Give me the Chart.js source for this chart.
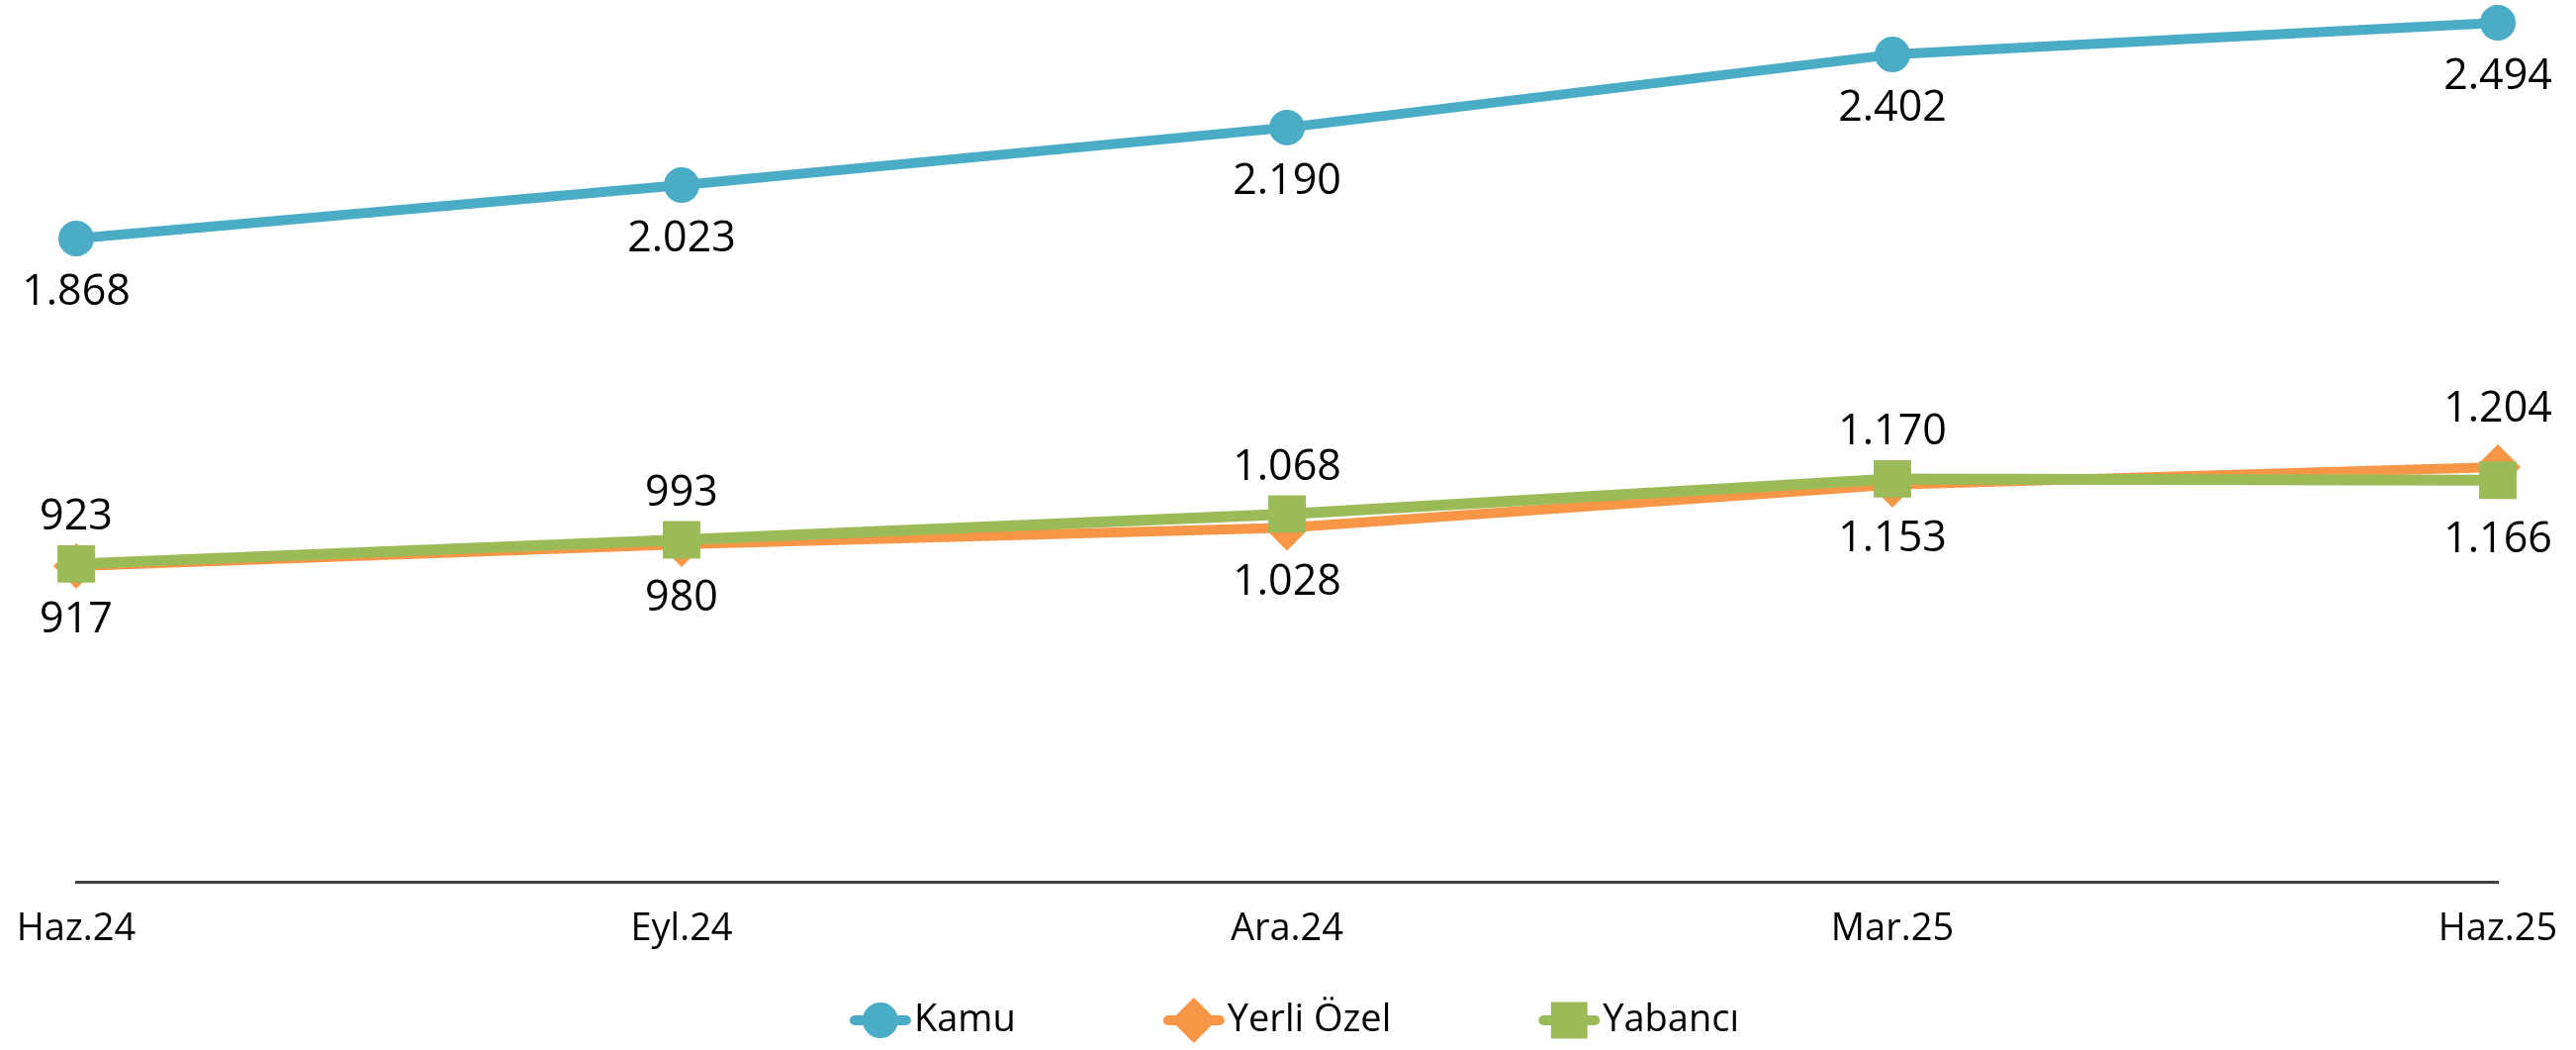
<!DOCTYPE html>
<html>
<head>
<meta charset="utf-8">
<script src="https://cdn.jsdelivr.net/npm/chart.js@4/dist/chart.umd.min.js"></script>
<style>
  html, body { margin: 0; padding: 0; background: #fff; }
  #wrap { width: 2604px; height: 1061px; position: relative; }
</style>
</head>
<body>
<div id="wrap"><canvas id="trend"></canvas></div>
<script>
// periods and series
const periods = ["Haz.24", "Eyl.24", "Ara.24", "Mar.25", "Haz.25"];
const kamu = [1868, 2023, 2190, 2402, 2494];
const yerliOzel = [917, 980, 1028, 1153, 1204];
const yabanci = [923, 993, 1068, 1170, 1166];

const FONT = "'Open Sans', 'Noto Sans', sans-serif";

function fmt(v) {
  return String(v).replace(/\B(?=(\d{3})+(?!\d))/g, ".");
}

// value labels next to each point
const valueLabels = {
  id: "valueLabels",
  afterDatasetsDraw(chart) {
    const ctx = chart.ctx;
    ctx.save();
    ctx.font = "43px " + FONT;
    ctx.fillStyle = "#000";
    ctx.textAlign = "center";
    ctx.textBaseline = "middle";
    chart.data.datasets.forEach((ds, i) => {
      const meta = chart.getDatasetMeta(i);
      meta.data.forEach((pt, j) => {
        const txt = fmt(ds.data[j]);
        const w = ctx.measureText(txt).width;
        const above = ds.labelPos[j] === "above";
        const y = above ? pt.y - ds.labelAbove : pt.y + ds.labelBelow;
        let x = pt.x;
        x = Math.min(x, chart.width - w / 2 - 2);
        x = Math.max(x, w / 2 + 2);
        ctx.fillText(txt, x, y);
      });
    });
    ctx.restore();
  }
};

// legend: line with marker, then the name
const lineLegend = {
  id: "lineLegend",
  afterDraw(chart) {
    const ctx = chart.ctx;
    const a = chart.chartArea;
    const gap = 150, sym = 60;
    ctx.save();
    ctx.font = "38px " + FONT;
    const items = chart.data.datasets.map(ds => ({ ds, w: ctx.measureText(ds.label).width }));
    const total = items.reduce((s, it) => s + sym + 4 + it.w, 0) + gap * (items.length - 1);
    let x = (a.left + a.right) / 2 + 8 - total / 2;
    const y = chart.height - 30;
    items.forEach(({ ds, w }) => {
      ctx.strokeStyle = ds.borderColor;
      ctx.lineWidth = 10;
      ctx.lineCap = "round";
      ctx.beginPath();
      ctx.moveTo(x + 4, y);
      ctx.lineTo(x + sym - 4, y);
      ctx.stroke();
      ctx.fillStyle = ds.pointBackgroundColor;
      ctx.strokeStyle = ds.pointBorderColor;
      Chart.helpers.drawPoint(ctx, {
        pointStyle: ds.pointStyle, radius: ds.pointRadius, rotation: 0, borderWidth: 1
      }, x + sym / 2, y);
      ctx.fillStyle = "#000";
      ctx.textAlign = "left";
      ctx.textBaseline = "middle";
      ctx.fillText(ds.label, x + sym + 4, y);
      x += sym + 4 + w + gap;
    });
    ctx.restore();
  }
};

new Chart(document.getElementById("trend"), {
  type: "line",
  data: {
    labels: periods,
    datasets: [
      {
        label: "Kamu",
        data: kamu,
        borderColor: "#4BACC6",
        pointBackgroundColor: "#4BACC6",
        pointBorderColor: "#4BACC6",
        borderWidth: 10,
        pointStyle: "circle",
        pointRadius: 13,
        labelPos: ["below", "below", "below", "below", "below"],
        labelAbove: 48, labelBelow: 55,
        order: 0,
        clip: false,
      },
      {
        label: "Yerli Özel",
        data: yerliOzel,
        borderColor: "#F79646",
        pointBackgroundColor: "#F79646",
        pointBorderColor: "#F79646",
        borderWidth: 10,
        pointStyle: "rectRot",
        pointRadius: 16,
        labelPos: ["below", "below", "below", "below", "above"],
        labelAbove: 58, labelBelow: 55,
        order: 2,
        clip: false,
      },
      {
        label: "Yabancı",
        data: yabanci,
        borderColor: "#9BBB59",
        pointBackgroundColor: "#9BBB59",
        pointBorderColor: "#9BBB59",
        borderWidth: 11,
        pointStyle: "rect",
        pointRadius: 19,
        labelPos: ["above", "above", "above", "above", "below"],
        labelAbove: 47, labelBelow: 60,
        order: 1,
        clip: false,
      },
    ],
  },
  options: {
    responsive: true,
    maintainAspectRatio: false,
    animation: false,
    layout: { padding: { left: 77, right: 79, top: 21, bottom: 74 }, autoPadding: false },
    plugins: { legend: { display: false }, tooltip: { enabled: false } },
    elements: { line: { tension: 0, borderCapStyle: "round", borderJoinStyle: "round" } },
    scales: {
      x: {
        grid: { display: false, drawTicks: false },
        border: { display: true, color: "#404040", width: 3 },
        ticks: {
          padding: 5,
          maxRotation: 0,
          autoSkip: false,
          color: "#000",
          font: { family: FONT, size: 38, lineHeight: 2.26 },
        },
      },
      y: { display: false, min: 0, max: 2500 },
    },
  },
  plugins: [valueLabels, lineLegend],
});
</script>
</body>
</html>
